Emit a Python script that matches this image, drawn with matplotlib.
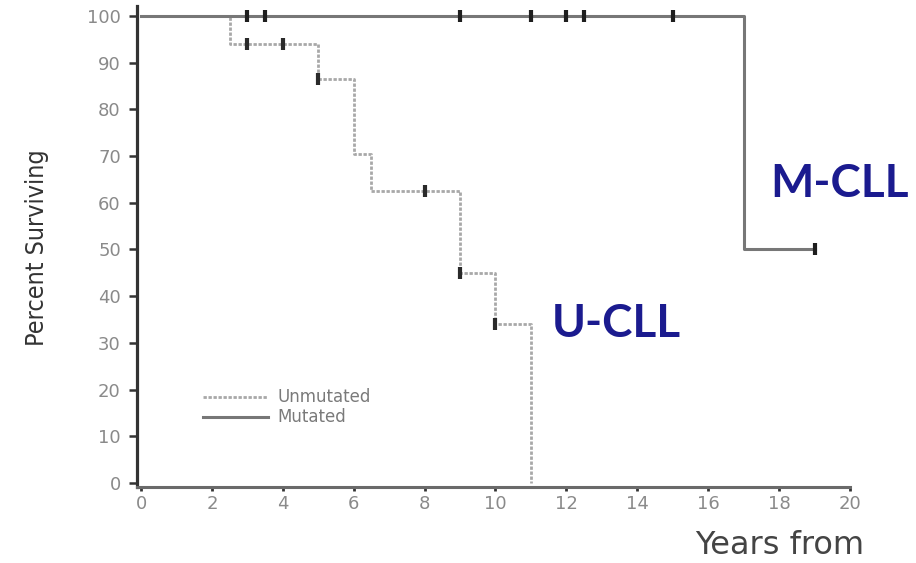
import matplotlib
matplotlib.use("Agg")
import matplotlib.pyplot as plt

# Kaplan-Meier estimates, time in years, survival in percent
mut_time = [0, 17, 19]
mut_surv = [100, 50, 50]
mut_cens_time = [3, 3.5, 9, 11, 12, 12.5, 15, 19]
mut_cens_surv = [100, 100, 100, 100, 100, 100, 100, 50]

unm_time = [0, 2.5, 5, 6, 6.5, 9, 10, 11]
unm_surv = [100, 94, 86.5, 70.5, 62.5, 45, 34, 0]
unm_cens_time = [3, 4, 5, 8, 9, 10]
unm_cens_surv = [94, 94, 86.5, 62.5, 45, 34]

xticks = list(range(0, 21, 2))
yticks = list(range(0, 101, 10))

fig = plt.figure(figsize=(9.16, 5.63), dpi=100)
ax = fig.add_axes([0.1501, 0.1350, 0.7778, 0.8543])

gray_light = "#a8a8a8"
gray_mid = "#777777"
navy = "#1b1b8f"

ax.step(unm_time, unm_surv, where="post", color=gray_light, lw=2.0,
        ls=(0, (1.2, 0.6)), label="Unmutated")
ax.step(mut_time, mut_surv, where="post", color=gray_mid, lw=2.2,
        label="Mutated")
ax.plot(unm_cens_time, unm_cens_surv, ls="none", marker="|", ms=9,
        mew=3, color="#2a2a2a")
ax.plot(mut_cens_time, mut_cens_surv, ls="none", marker="|", ms=9,
        mew=3, color="#1e1e1e")

ax.set_xlim(-0.1, 20)
ax.set_ylim(-0.86, 102.1)
ax.set_xticks(xticks)
ax.set_yticks(yticks)

for s in ["top", "right"]:
    ax.spines[s].set_visible(False)
ax.spines["left"].set_color("#333333")
ax.spines["left"].set_linewidth(2.3)
ax.spines["bottom"].set_color("#6a6a6a")
ax.spines["bottom"].set_linewidth(2.2)

ax.tick_params(axis="y", length=6, width=1.8, color="#333333", pad=6,
               labelsize=13, labelcolor="#8a8a8a")
ax.tick_params(axis="x", length=3, width=2.0, color="#333333", pad=3,
               labelsize=13, labelcolor="#8a8a8a")

leg = ax.legend(loc="upper left", bbox_to_anchor=(0.092, 0.205),
                frameon=False, fontsize=12, handlelength=3.9,
                handletextpad=0.55, labelspacing=0.12, borderpad=0,
                borderaxespad=0)
for t in leg.get_texts():
    t.set_color("#7a7a7a")

ax.text(17.74, 61.2, "M-CLL", color=navy, fontsize=33, fontweight="bold",
        family=["Lato", "DejaVu Sans"], ha="left", va="baseline")
ax.text(11.59, 31.3, "U-CLL", color=navy, fontsize=33, fontweight="bold",
        family=["Lato", "DejaVu Sans"], ha="left", va="baseline")

fig.text(37 / 916, 1 - 248 / 563, "Percent Surviving", rotation=90,
         ha="center", va="center", fontsize=18, color="#333333",
         family="DejaVu Sans", fontstretch="condensed")

fig.text(695 / 916, 2 / 563, "Years from", ha="left", va="bottom",
         fontsize=23, color="#444444")

fig.savefig("out.png", dpi=100, facecolor="white")
